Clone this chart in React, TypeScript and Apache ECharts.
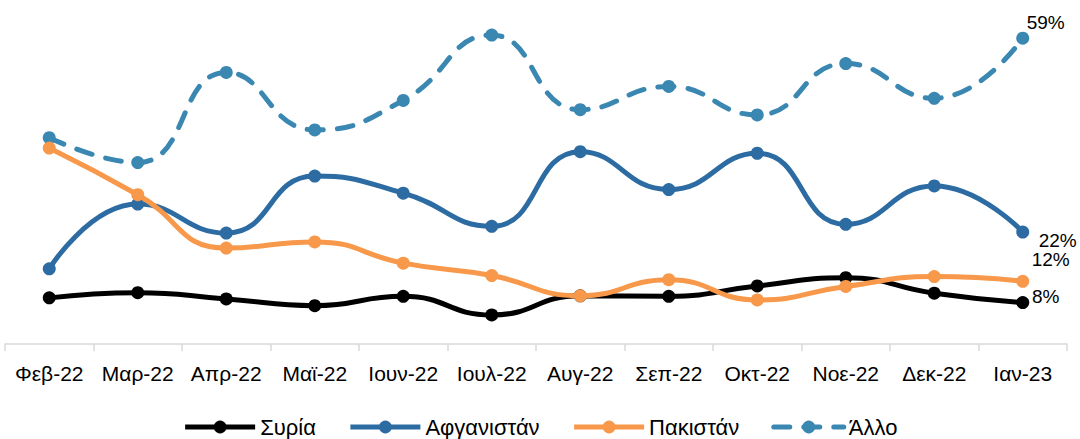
import React, { useEffect, useRef } from "react";
import * as echarts from "echarts";

const categories = ["Φεβ-22", "Μαρ-22", "Απρ-22", "Μαϊ-22", "Ιουν-22", "Ιουλ-22", "Αυγ-22", "Σεπ-22", "Οκτ-22", "Νοε-22", "Δεκ-22", "Ιαν-23"];
const syria = [8.9, 9.9, 8.7, 7.4, 9.2, 5.6, 9.3, 9.2, 11.2, 12.8, 9.8, 8.0];
const afghanistan = [14.5, 27.0, 21.4, 32.4, 29.1, 22.7, 37.1, 29.8, 36.8, 23.1, 30.5, 21.6];
const pakistan = [37.8, 28.8, 18.5, 19.7, 15.6, 13.2, 9.3, 12.4, 8.5, 11.1, 13.0, 12.1];
const other = [39.8, 35.0, 52.4, 41.3, 47.0, 59.6, 45.2, 49.7, 44.2, 54.1, 47.4, 59.0];
const seriesNames = ["Συρία", "Αφγανιστάν", "Πακιστάν", "Άλλο"];

const FONT = "Liberation Sans";

function withLastLabel(values: number[], offset: [number, number]) {
  return values.map((v, i) =>
    i === values.length - 1
      ? {
          value: v,
          label: {
            show: true,
            position: "inside",
            offset,
            formatter: Math.round(v) + "%",
            color: "#000",
            fontSize: 19,
            lineHeight: 19,
            fontFamily: FONT,
          },
        }
      : v
  );
}

export default function App() {
  const ref = useRef<HTMLDivElement>(null);
  useEffect(() => {
    document.body.style.margin = "0";
    const chart = echarts.init(ref.current!, undefined, { renderer: "svg" });
    const common = {
      type: "line",
      smooth: 0.5,
      symbol: "circle",
      symbolSize: 13,
      emphasis: { disabled: true },
    };
    chart.setOption({
      animation: false,
      textStyle: { fontFamily: FONT },
      grid: { left: 5, right: 13, top: 33, bottom: 95, containLabel: false },
      legend: {
        top: 416,
        left: "center",
        padding: 0,
        itemWidth: 70,
        itemHeight: 16,
        itemGap: 32,
        lineStyle: { width: 5 },
        textStyle: { fontSize: 22, color: "#000", fontFamily: FONT },
        data: seriesNames,
      },
      xAxis: {
        type: "category",
        data: categories,
        boundaryGap: true,
        axisLine: { lineStyle: { color: "#d9d9d9", width: 1.5 } },
        axisTick: { show: true, length: 7, lineStyle: { color: "#d9d9d9", width: 1.5 } },
        axisLabel: { fontSize: 21, color: "#000", margin: 19, interval: 0, fontFamily: FONT },
      },
      yAxis: {
        type: "value",
        min: 0,
        max: 60,
        show: false,
        splitLine: { show: false },
      },
      series: [
        {
          ...common,
          name: seriesNames[0],
          data: withLastLabel(syria, [23, -6]),
          itemStyle: { color: "#000000" },
          lineStyle: { color: "#000000", width: 5 },
          z: 4,
        },
        {
          ...common,
          name: seriesNames[1],
          data: withLastLabel(afghanistan, [35, 8]),
          itemStyle: { color: "#2C6CA2" },
          lineStyle: { color: "#2C6CA2", width: 5 },
          z: 3,
        },
        {
          ...common,
          name: seriesNames[2],
          data: withLastLabel(pakistan, [28, -22]),
          itemStyle: { color: "#F8984A" },
          lineStyle: { color: "#F8984A", width: 5 },
          z: 5,
        },
        {
          ...common,
          name: seriesNames[3],
          data: withLastLabel(other, [23, -16]),
          itemStyle: { color: "#3A88B2" },
          lineStyle: { color: "#3A88B2", width: 5, type: [16, 14], cap: "round" },
          z: 2,
        },
      ],
    });
    return () => chart.dispose();
  }, []);
  return <div ref={ref} style={{ width: 1080, height: 439 }} />;
}
